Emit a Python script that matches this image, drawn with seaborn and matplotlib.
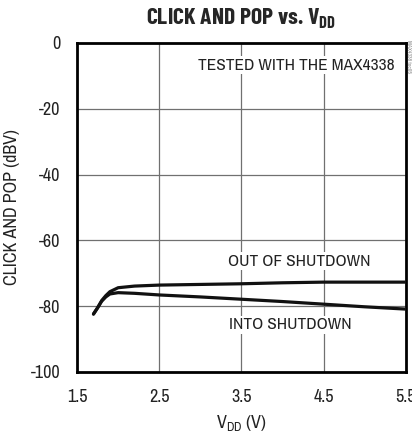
import pandas as pd
import matplotlib.pyplot as plt
import seaborn as sns

# Dades llegides de la gràfica
vdd = [1.70, 1.75, 1.80, 1.85, 1.90, 2.0, 2.2, 2.5, 3.0, 3.5, 4.0, 4.5, 5.0, 5.5]
out_of_shutdown = [-82.4, -80.5, -78.3, -76.8, -75.6, -74.4, -73.9, -73.6, -73.4, -73.2, -72.9, -72.7, -72.7, -72.7]
into_shutdown = [-82.4, -80.5, -78.5, -77.2, -76.3, -75.9, -76.1, -76.6, -77.2, -77.9, -78.6, -79.4, -80.2, -80.9]
xticks = [1.5, 2.5, 3.5, 4.5, 5.5]
yticks = [0, -20, -40, -60, -80, -100]

sns.set_style("white")
font = "Archivo Narrow"
title_font = "Barlow Condensed"
plt.rcParams['font.family'] = [font, 'DejaVu Sans']
plt.rcParams['axes.unicode_minus'] = False
plt.rcParams['mathtext.fontset'] = 'custom'
plt.rcParams['mathtext.rm'] = font
plt.rcParams['mathtext.bf'] = title_font + ':bold'

df = pd.DataFrame({"vdd": vdd + vdd,
                   "dbv": out_of_shutdown + into_shutdown,
                   "serie": ["out"] * len(vdd) + ["into"] * len(vdd)})

fig = plt.figure(figsize=(4.12, 4.34), dpi=100)
ax = fig.add_axes([0.187, 0.143, 0.798, 0.758])

for x in xticks[1:-1]:
    ax.axvline(x, color="#707070", lw=0.9, zorder=1)
for y in yticks[1:-1]:
    ax.axhline(y, color="#707070", lw=0.9, zorder=1)

sns.lineplot(data=df, x="vdd", y="dbv", units="serie", estimator=None,
             color="#111111", lw=2.3, ax=ax, zorder=3)

ax.set_xlim(1.5, 5.5)
ax.set_ylim(-100, 0)
ax.set_xticks(xticks)
ax.set_xticklabels([str(v) for v in xticks])
ax.set_yticks(yticks)
ax.tick_params(labelsize=13, length=0, colors="#222222")
ax.tick_params(axis="x", pad=12)
ax.tick_params(axis="y", pad=12)
for s in ax.spines.values():
    s.set_linewidth(2)
    s.set_color("black")

ax.set_xlabel(r"V$_\mathrm{DD}$ (V)", fontsize=13, color="#222222", labelpad=6)
ax.set_ylabel("CLICK AND POP (dBV)", fontsize=13, color="#222222", labelpad=8)
ax.set_title(r"CLICK AND POP vs. V$_\mathbf{DD}$", fontsize=17, fontweight="bold",
             family=[title_font, 'DejaVu Sans'], pad=13)

box = dict(facecolor="white", edgecolor="none", pad=1)
ax.text(4.17, -6.7, "TESTED WITH THE MAX4338", ha="center", va="center",
        fontsize=12.5, color="#222222", bbox=box, zorder=4)
ax.text(4.20, -66.3, "OUT OF SHUTDOWN", ha="center", va="center",
        fontsize=12.5, color="#222222", bbox=box, zorder=4)
ax.text(4.10, -85.7, "INTO SHUTDOWN", ha="center", va="center",
        fontsize=12.5, color="#222222", bbox=box, zorder=4)
fig.text(0.992, 0.87, "MAX4338 toc05", rotation=270, ha="center", va="center",
         fontsize=4, color="#888888")

fig.savefig("out.png", dpi=100)
